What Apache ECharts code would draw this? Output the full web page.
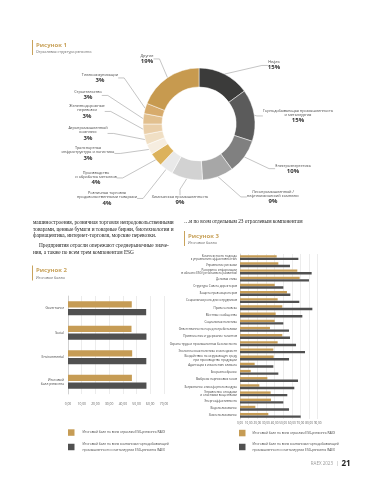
<!DOCTYPE html>
<html><head><meta charset="utf-8">
<script src="https://cdn.jsdelivr.net/npm/echarts@6/dist/echarts.min.js"></script>
<style>html,body{margin:0;padding:0;background:#fff}#c{width:387px;height:480px}</style>
</head><body><div id="c"></div>
<script>
// ---------- Data ----------
const PIE_NAMES = [
  'Нефть',
  'Горнодобывающая промышленность\nи металлургия',
  'Электроэнергетика',
  'Лесопромышленный /\nнефтехимический комплекс',
  'Химическая промышленность',
  'Розничная торговля\nпродовольственными товарами',
  'Производство\nи обработка металлов',
  'Транспортная\nинфраструктура и логистика',
  'Агропромышленный\nкомплекс',
  'Железнодорожные\nперевозки',
  'Строительство',
  'Телекоммуникации',
  'Другие'
];
const PIE_VALUES = [15, 15, 10, 9, 9, 4, 4, 3, 3, 3, 3, 3, 19];

const L_CATS = ['Governance', 'Social', 'Environmental', 'Итоговый\nбалл рэнкинга'];
const L_ALL = [46.5, 46.3, 46.8, 46.6];
const L_MINING = [57.0, 57.2, 57.1, 57.2];
const X_TICKS_2 = ['0,00', '10,00', '20,00', '30,00', '40,00', '50,00', '60,00', '70,00'];

const R_CATS = [
  'Комплексность подхода\nк управлению эффективностью',
  'Управление рисками',
  'Раскрытие информации\nв области ESG (устойчивого развития)',
  'Деловая этика',
  'Структура Совета директоров',
  'Защита прав акционеров',
  'Социальная роль для сотрудников',
  'Права человека',
  'Местные сообщества',
  'Социальная политика',
  'Ответственность перед потребителями',
  'Привлечение и удержание талантов',
  'Охрана труда и промышленная безопасность',
  'Экологическая политика и менеджмент',
  'Воздействие на окружающую среду\nпри производстве продукции',
  'Адаптация к изменению климата',
  'Биоразнообразие',
  'Выбросы парниковых газов',
  'Загрязнение атмосферного воздуха',
  'Управление отходами\nи опасными веществами',
  'Энергоэффективность',
  'Водопользование',
  'Землепользование'
];
const R_ALL = [42.5, 44.4, 66.4, 69.1, 40.2, 54.4, 43.6, 49.0, 41.3, 40.2, 34.7, 49.0, 43.6, 38.6, 39.0, 17.0, 12.4, 31.7, 22.4, 35.5, 35.9, 17.8, 32.8];
const R_MINING = [67.6, 57.9, 83.0, 79.9, 50.2, 58.3, 68.7, 83.8, 72.2, 50.2, 56.8, 57.9, 64.9, 75.3, 56.8, 38.6, 44.4, 67.2, 62.9, 54.8, 50.2, 56.8, 70.3];
const X_TICKS_3 = ['0,00', '10,00', '20,00', '30,00', '40,00', '50,00', '60,00', '70,00', '80,00', '90,00'];

const SERIES_NAMES = [
  'Итоговый балл по всем отраслям ESG-рэнкинга RAEX',
  'Итоговый балл по всем компаниям горнодобывающей промышленности и металлургии ESG-рэнкинга RAEX'
];
const LEGEND_LABELS = [
  'Итоговый балл по всем отраслям ESG-рэнкинга RAEX',
  'Итоговый балл по всем компаниям горнодобывающей\nпромышленности и металлургии ESG-рэнкинга RAEX'
];

// ---------- Styles / layout ----------
const PIE_COLORS = ['#3b3b3a', '#5b5b5b', '#808080', '#a7a7a7', '#d2d2d2', '#e9e9e9', '#dcb25b',
  '#f6ede0', '#f0dfc4', '#eacfa9', '#e2c08f', '#d7ab6c', '#c79a4f'];
const PIE_LABEL_XY = [[274, 65.5], [298, 116], [293, 168.7], [273, 197], [180, 200.5], [107, 198.5],
  [96, 178], [88, 153.5], [88, 133.5], [87, 111.5], [88, 95.5], [100, 78], [147, 59]];
const GOLD = '#c69c55', DARK = '#505050', TITLE_GOLD = '#c9a35c';
const SANS = '"Open Sans", "Liberation Sans", sans-serif';
const SERIF = '"Liberation Serif", serif';

const G = [];
function txt(x, y, text, font, fill, align) {
  G.push({ type: 'text', x: x, y: y, silent: true,
    style: { text: text, font: font, fill: fill, align: align || 'left', verticalAlign: 'middle' } });
}
function vbar(x, y, h) {
  G.push({ type: 'rect', silent: true, shape: { x: x, y: y, width: 1, height: h }, style: { fill: TITLE_GOLD } });
}
vbar(32, 40, 15);
txt(36, 45.5, 'Рисунок 1', 'bold 6px ' + SANS, TITLE_GOLD);
txt(36, 52.2, 'Отраслевая структура рэнкинга', '3.6px ' + SANS, '#666');
vbar(32, 265.5, 15);
txt(36, 270.7, 'Рисунок 2', 'bold 6px ' + SANS, TITLE_GOLD);
txt(36, 277.5, 'Итоговые баллы', '3.6px ' + SANS, '#666');
vbar(184, 231, 15);
txt(188, 236.5, 'Рисунок 3', 'bold 6px ' + SANS, TITLE_GOLD);
txt(188, 242.5, 'Итоговые баллы', '3.6px ' + SANS, '#666');

const BODY_FONT = '5.3px ' + SERIF;
txt(33, 222.5, 'машиностроения, розничная торговля непродовольственными', BODY_FONT, '#222');
txt(33, 229.2, 'товарами, ценные бумаги и товарные биржи, биотехнологии и', BODY_FONT, '#222');
txt(33, 235.9, 'фармацевтика, интернет-торговля, морские перевозки.', BODY_FONT, '#222');
txt(39, 245.6, 'Предприятия отрасли опережают среднерыночные значе-', BODY_FONT, '#222');
txt(33, 252.3, 'ния, а также по всем трем компонентам ESG', BODY_FONT, '#222');
txt(184, 222, '…и по всем отдельным 23 отраслевым компонентам', BODY_FONT, '#222');

txt(333, 464, 'RAEX 2023', '4.5px ' + SANS, '#9a9a9a', 'right');
txt(337.5, 464, '|', '5px ' + SANS, '#9a9a9a', 'center');
txt(341.5, 464, '21', 'bold 8px ' + SANS, '#222');

function legend(name, idx, left, top, padLeft) {
  return {
    data: [name], left: left, top: top, padding: 0, orient: 'vertical',
    itemWidth: 6.5, itemHeight: 6.5, icon: 'rect', selectedMode: false,
    formatter: function () { return LEGEND_LABELS[idx]; },
    textStyle: { fontSize: 3.2, lineHeight: 6, color: '#444', fontFamily: SANS, padding: [0, 0, 0, padLeft] }
  };
}

const chart = echarts.init(document.getElementById('c'), null, { renderer: 'canvas' });
chart.setOption({
  backgroundColor: '#fff',
  animation: false,
  color: [GOLD, DARK],
  graphic: G,
  legend: [
    legend(SERIES_NAMES[0], 0, 68, 429.3, 3),
    legend(SERIES_NAMES[1], 1, 68, 441, 3),
    legend(SERIES_NAMES[0], 0, 239, 429.8, 2),
    legend(SERIES_NAMES[1], 1, 239, 441, 2)
  ],
  grid: [
    { left: 68, top: 296, width: 96, height: 98 },
    { left: 240, top: 254, width: 77.7, height: 165 }
  ],
  xAxis: [
    { gridIndex: 0, type: 'value', min: 0, max: 70, interval: 10,
      axisLine: { show: false }, axisTick: { show: false },
      splitLine: { lineStyle: { color: '#d9d9d9', width: 0.5 } },
      axisLabel: { fontSize: 3.3, color: '#595959', margin: 9, fontFamily: SANS,
        formatter: function (v) { return X_TICKS_2[Math.round(v / 10)]; } } },
    { gridIndex: 1, type: 'value', min: 0, max: 90, interval: 10,
      axisLine: { show: false }, axisTick: { show: false },
      splitLine: { lineStyle: { color: '#d9d9d9', width: 0.5 } },
      axisLabel: { fontSize: 3, color: '#595959', margin: 2.5, fontFamily: SANS,
        formatter: function (v) { return X_TICKS_3[Math.round(v / 10)]; } } }
  ],
  yAxis: [
    { gridIndex: 0, type: 'category', data: L_CATS, inverse: true,
      axisLine: { lineStyle: { color: '#bfbfbf', width: 0.6 } }, axisTick: { show: false },
      axisLabel: { fontSize: 3.3, lineHeight: 4, color: '#404040', margin: 4, fontFamily: SANS } },
    { gridIndex: 1, type: 'category', data: R_CATS, inverse: true,
      axisLine: { lineStyle: { color: '#bfbfbf', width: 0.6 } }, axisTick: { show: false },
      axisLabel: { fontSize: 3, lineHeight: 3.4, color: '#404040', margin: 3, fontFamily: SANS, interval: 0 } }
  ],
  series: [
    { type: 'pie', center: [199, 124], radius: [37, 56], startAngle: 90, clockwise: true,
      silent: true, avoidLabelOverlap: false,
      itemStyle: { borderColor: '#fff', borderWidth: 0.5 },
      data: PIE_NAMES.map(function (n, i) { return { name: n, value: PIE_VALUES[i], itemStyle: { color: PIE_COLORS[i] } }; }),
      label: { show: true, position: 'outer',
        formatter: function (p) { return '{n|' + p.name + '}\n{p|' + p.value + '%}'; },
        rich: {
          n: { fontSize: 3.8, lineHeight: 4.3, color: '#444', fontFamily: SANS, align: 'center' },
          p: { fontSize: 6, lineHeight: 6.5, fontWeight: 'bold', color: '#333', fontFamily: SANS, align: 'center' }
        } },
      labelLine: { show: true, length: 6, length2: 6, lineStyle: { color: '#8a8a8a', width: 0.5 } },
      labelLayout: function (p) {
        const xy = PIE_LABEL_XY[p.dataIndex];
        return { x: xy[0], y: xy[1], align: 'center', verticalAlign: 'middle' };
      } },
    { type: 'bar', name: SERIES_NAMES[0], xAxisIndex: 0, yAxisIndex: 0, data: L_ALL,
      barWidth: 6.3, barGap: '20%', itemStyle: { color: GOLD }, silent: true },
    { type: 'bar', name: SERIES_NAMES[1], xAxisIndex: 0, yAxisIndex: 0, data: L_MINING,
      barWidth: 6.3, barGap: '20%', itemStyle: { color: DARK }, silent: true },
    { type: 'bar', name: SERIES_NAMES[0], xAxisIndex: 1, yAxisIndex: 1, data: R_ALL,
      barWidth: 2.4, barGap: '5%', itemStyle: { color: GOLD }, silent: true },
    { type: 'bar', name: SERIES_NAMES[1], xAxisIndex: 1, yAxisIndex: 1, data: R_MINING,
      barWidth: 2.4, barGap: '5%', itemStyle: { color: DARK }, silent: true }
  ]
});
</script></body></html>
